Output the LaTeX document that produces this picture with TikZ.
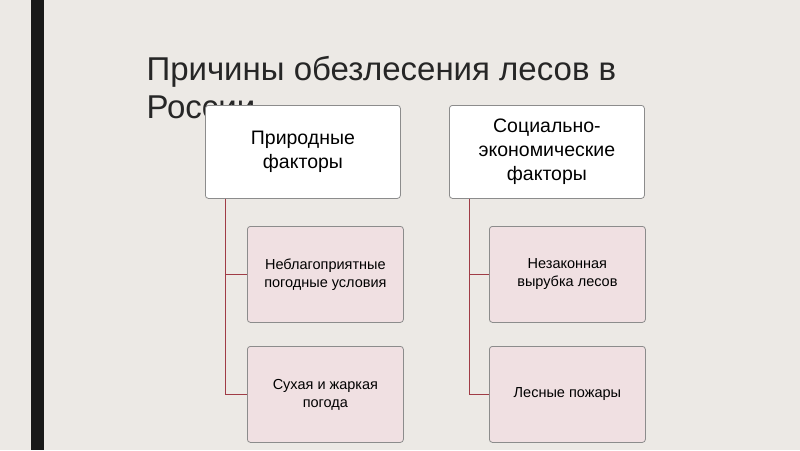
\documentclass[tikz,border=0pt]{standalone}
\usepackage{fontspec}
\setmainfont{Liberation Sans}
\definecolor{bg}{RGB}{236,233,229}
\definecolor{pinkbox}{RGB}{240,224,226}
\definecolor{connred}{RGB}{160,60,70}
\begin{document}
\begin{tikzpicture}[x=1pt,y=-1pt,
  top/.style={draw=black!45,fill=white,rounded corners=3pt,minimum width=195pt,minimum height=93pt,align=center,font=\fontsize{19.5}{24}\selectfont,line width=0.8pt},
  sub/.style={draw=black!45,fill=pinkbox,rounded corners=3pt,minimum width=156pt,minimum height=96pt,align=center,font=\fontsize{14.5}{18}\selectfont,line width=0.8pt},
  conn/.style={draw=connred,line width=1pt}]
\fill[bg] (0,0) rectangle (800,450);
\fill[black!90] (31,0) rectangle (44,450);
\node[anchor=west,align=left,font=\fontsize{33}{38}\selectfont,text=black!85] (title) at (143,88) {Причины обезлесения лесов в\\России};
\node[top,anchor=north west] (a) at (205,105) {Природные\\факторы};
\node[top,anchor=north west] (b) at (449,105) {Социально-\\экономические\\факторы};
\node[sub,anchor=north west] (a1) at (247,226) {Неблагоприятные\\погодные условия};
\node[sub,anchor=north west] (a2) at (247,346) {Сухая и жаркая\\погода};
\node[sub,anchor=north west] (b1) at (489,226) {Незаконная\\вырубка лесов};
\node[sub,anchor=north west] (b2) at (489,346) {Лесные пожары};
\draw[conn] (a.south west) ++(20,0) |- (a1.west);
\draw[conn] (a.south west) ++(20,0) |- (a2.west);
\draw[conn] (b.south west) ++(20,0) |- (b1.west);
\draw[conn] (b.south west) ++(20,0) |- (b2.west);
\end{tikzpicture}
\end{document}
